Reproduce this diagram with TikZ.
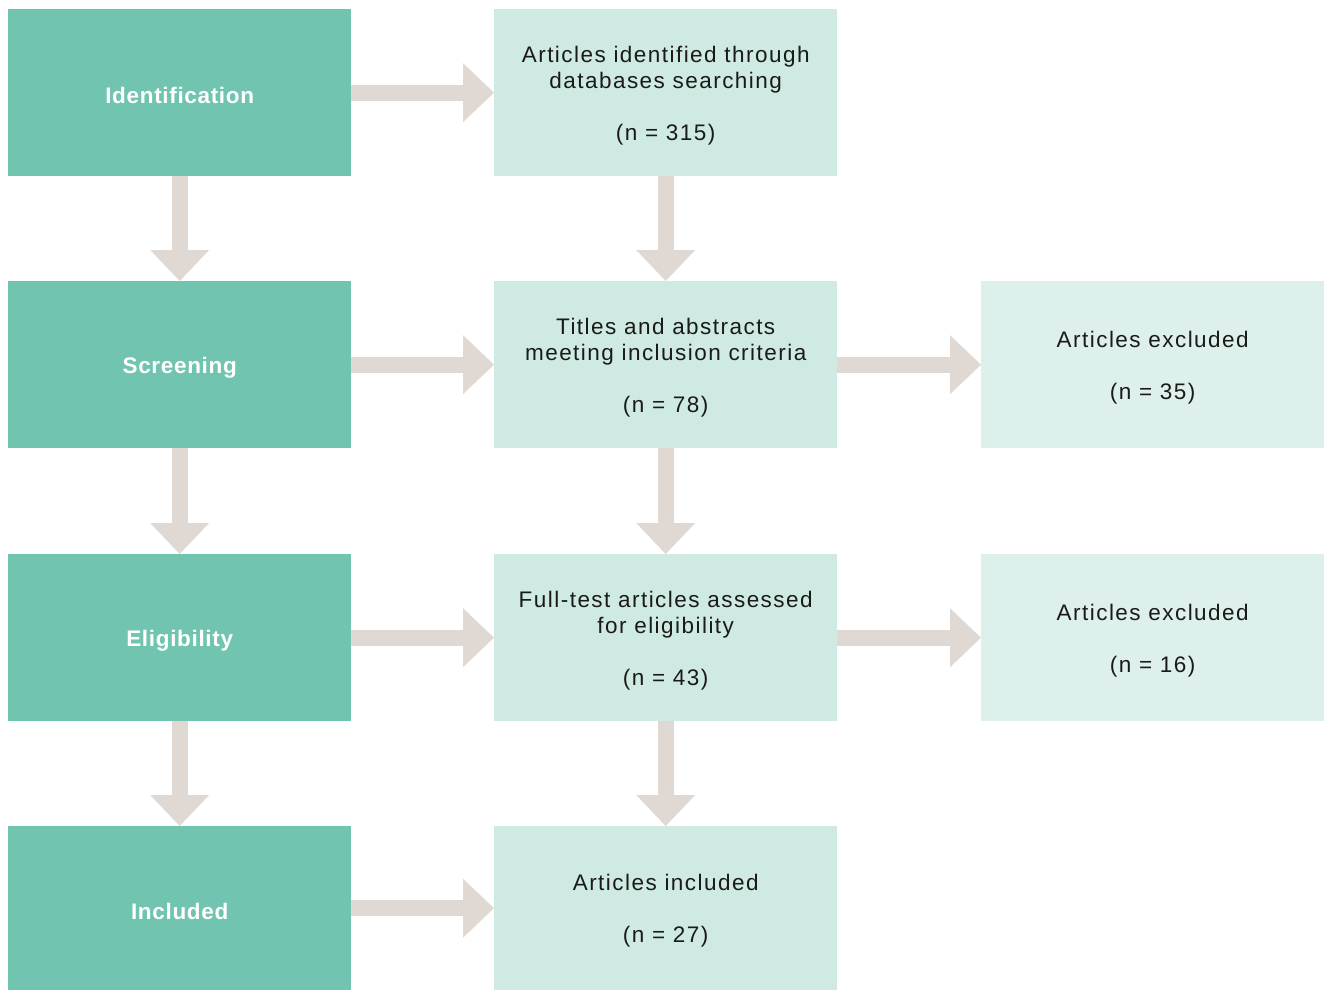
\documentclass[tikz,border=0pt]{standalone}
\usepackage{fontspec}
\setmainfont{Liberation Sans}[LetterSpace=6.5]
\newfontfamily\labelfont{Liberation Sans}[LetterSpace=3]
\usetikzlibrary{arrows.meta}
\definecolor{stagec}{HTML}{70C4B0}
\definecolor{midc}{HTML}{CFEAE2}
\definecolor{sidec}{HTML}{DDF0EB}
\definecolor{arrowc}{HTML}{E0D9D3}
\definecolor{textc}{HTML}{1A1A1A}
\newcommand\tp{\rule{0pt}{22pt}}
\tikzset{
  x=1pt, y=-1pt,
  box/.style={anchor=north west, inner sep=0pt, minimum width=343pt, minimum height=167pt, align=center},
  stage/.style={box, fill=stagec, text=white, font=\labelfont\bfseries\fontsize{22.5}{26}\selectfont},
  midbox/.style={box, fill=midc, text=textc, font=\fontsize{22.5}{26}\selectfont},
  sidebox/.style={box, fill=sidec, text=textc, font=\fontsize{22.5}{26}\selectfont},
  flow/.style={draw=arrowc, line width=16pt, -{Triangle[width=59pt,length=31pt,line width=0pt]}},
}
\begin{document}
\begin{tikzpicture}
\useasboundingbox (0,0) rectangle (1325,990);
% stages
\node[stage] (s1) at (8,9) {\tp Identification};
\node[stage] (s2) at (8,281) {\tp Screening};
\node[stage] (s3) at (8,554) {\tp Eligibility};
\node[stage, minimum height=164pt] (s4) at (8,826) {\tp Included};
% middle
\node[midbox] (m1) at (494,9) {\tp Articles identified through\\databases searching\\[26pt](n = 315)};
\node[midbox] (m2) at (494,281) {\tp Titles and abstracts\\meeting inclusion criteria\\[26pt](n = 78)};
\node[midbox] (m3) at (494,554) {\tp Full-test articles assessed\\for eligibility\\[26pt](n = 43)};
\node[midbox, minimum height=164pt] (m4) at (494,826) {\tp Articles included\\[26pt](n = 27)};
% side
\node[sidebox] (r2) at (981,281) {\tp Articles excluded\\[26pt](n = 35)};
\node[sidebox] (r3) at (981,554) {\tp Articles excluded\\[26pt](n = 16)};
% arrows
\draw[flow] (s1.south) -- (s2.north);
\draw[flow] (s2.south) -- (s3.north);
\draw[flow] (s3.south) -- (s4.north);
\draw[flow] (m1.south) -- (m2.north);
\draw[flow] (m2.south) -- (m3.north);
\draw[flow] (m3.south) -- (m4.north);
\draw[flow] (s1.east) -- (m1.west);
\draw[flow] (s2.east) -- (m2.west);
\draw[flow] (s3.east) -- (m3.west);
\draw[flow] (s4.east) -- (m4.west);
\draw[flow] (m2.east) -- (r2.west);
\draw[flow] (m3.east) -- (r3.west);
\end{tikzpicture}
\end{document}
